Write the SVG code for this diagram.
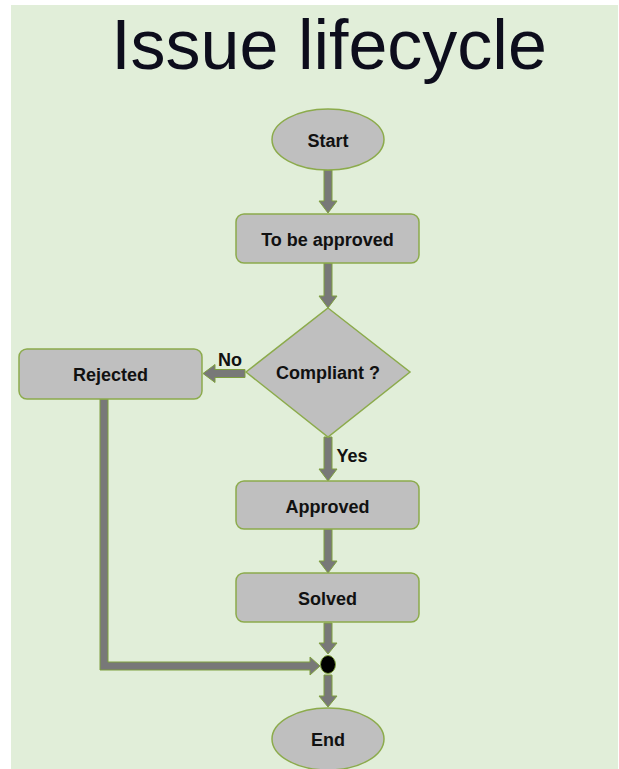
<svg xmlns="http://www.w3.org/2000/svg" width="619" height="769" viewBox="0 0 619 769">
  <style>
    .node { fill: #bfbfbf; stroke: #8cab4c; stroke-width: 1.5; }
    .label { font-family: "Liberation Sans", Arial, sans-serif; font-weight: bold; font-size: 18px; fill: #111111; text-anchor: middle; }
    .arrow { fill: #787878; stroke: #7f9f3f; stroke-width: 1; stroke-linejoin: miter; }
    .title { font-family: "Liberation Sans", Arial, sans-serif; font-size: 70px; fill: #0d0d1c; text-anchor: middle; }
  </style>

  <!-- page -->
  <rect x="0" y="0" width="619" height="769" fill="#ffffff"/>
  <rect x="11" y="5" width="607" height="764" fill="#e1eed9"/>

  <text class="title" x="329" y="69">Issue lifecycle</text>

  <!-- connectors -->
  <g id="connectors">
    <polygon class="arrow" points="324,170 332,170 332,201 337,201 328,213 319,201 324,201"/>
    <polygon class="arrow" points="324,263 332,263 332,296 337,296 328,308 319,296 324,296"/>
    <polygon class="arrow" points="245,369.5 245,377.5 215,377.5 215,382.5 203,373.5 215,364.5 215,369.5"/>
    <polygon class="arrow" points="324,437 332,437 332,469 337,469 328,481 319,469 324,469"/>
    <polygon class="arrow" points="324,529 332,529 332,561 337,561 328,573 319,561 324,561"/>
    <polygon class="arrow" points="324,623 332,623 332,643 337,643 328,654 319,643 324,643"/>
    <polygon class="arrow" points="324,675 332,675 332,696 337,696 328,707 319,696 324,696"/>
    <polygon class="arrow" points="100,399 108,399 108,662 310,662 310,657 320,666 310,675 310,670 100,670"/>
    <text class="label" x="230" y="366">No</text>
    <text class="label" x="352" y="462">Yes</text>
  </g>

  <g id="start">
    <ellipse class="node" cx="328" cy="139.5" rx="56" ry="30.5"/>
    <text class="label" x="328" y="147">Start</text>
  </g>

  <g id="to-be-approved">
    <rect class="node" x="236" y="214" width="183" height="49" rx="8"/>
    <text class="label" x="327.5" y="246">To be approved</text>
  </g>

  <g id="compliant">
    <polygon class="node" points="328,308 410,372 328,437 246,372"/>
    <text class="label" x="328" y="379">Compliant ?</text>
  </g>

  <g id="rejected">
    <rect class="node" x="19" y="349" width="183" height="50" rx="8"/>
    <text class="label" x="110.5" y="381">Rejected</text>
  </g>

  <g id="approved">
    <rect class="node" x="236" y="481" width="183" height="48" rx="8"/>
    <text class="label" x="327.5" y="513">Approved</text>
  </g>

  <g id="solved">
    <rect class="node" x="236" y="573" width="183" height="49" rx="8"/>
    <text class="label" x="327.5" y="605">Solved</text>
  </g>

  <g id="merge">
    <ellipse cx="328" cy="664.5" rx="7.5" ry="9" fill="#000000" stroke="#7f9f3f" stroke-width="1"/>
  </g>

  <g id="end">
    <ellipse class="node" cx="328" cy="739" rx="56" ry="31"/>
    <text class="label" x="328" y="746">End</text>
  </g>
</svg>
